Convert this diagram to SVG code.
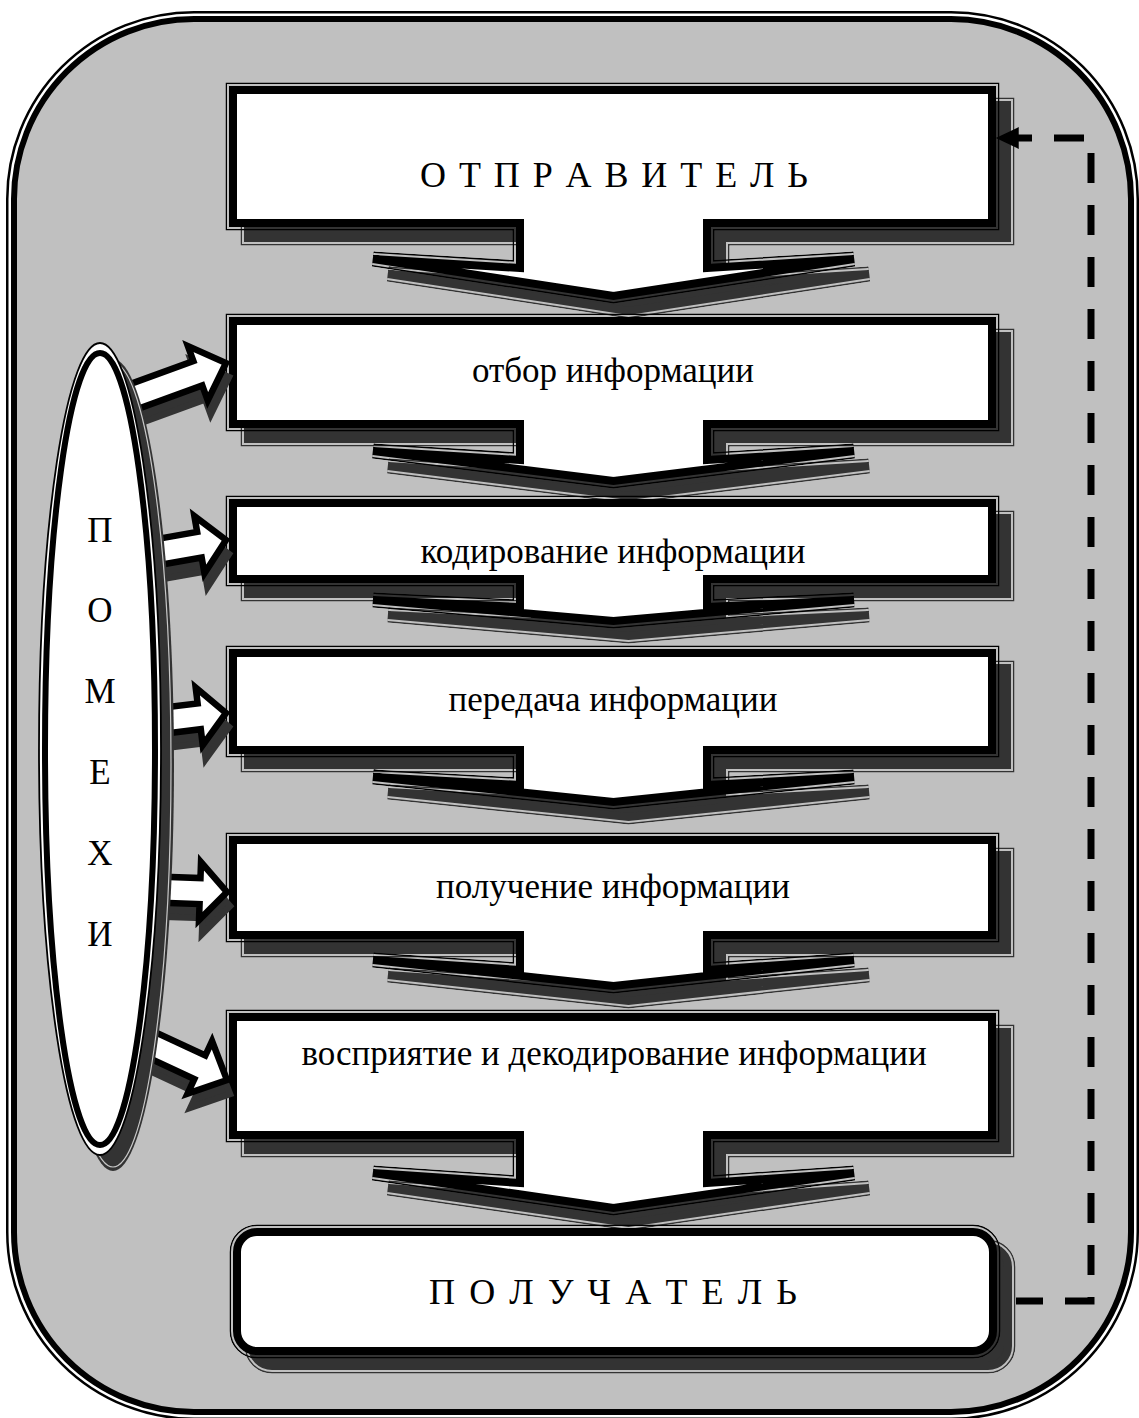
<svg xmlns="http://www.w3.org/2000/svg" width="1139" height="1418" viewBox="0 0 1139 1418">
<style>
.ro{fill:none;stroke:#000;stroke-width:15}
.rs{fill:none;stroke:#333;stroke-width:15}
.sm{fill:#333;stroke:#333;stroke-width:8}
.m{fill:#fff;stroke:#000;stroke-width:8}
.mw{fill:none;stroke:#fff;stroke-width:15}
.mb{fill:#000;stroke:#000;stroke-width:12}
.t{font-family:"Liberation Serif","Times New Roman",serif;font-size:35px;text-anchor:middle;fill:#000}
.cap{font-size:36px}
.ar{fill:#fff;stroke:#000;stroke-width:6.5}
.ash{fill:#333;stroke:#333;stroke-width:6.5}
.dash{fill:none;stroke:#000;stroke-width:7;stroke-dasharray:30 22;stroke-dashoffset:3}
</style>
<defs>
<path id="b1" d="M233,90 H992 V223 H707 V268 L854,259 L613.5,296 L373,259 L520,268 V223 H233 Z"/>
<path id="b2" d="M233,321 H992 V424 H707 V460 L854,451 L613.5,481 L373,451 L520,460 V424 H233 Z"/>
<path id="b3" d="M233,503 H992 V579 H707 V607 L854,600 L613.5,621 L373,600 L520,607 V579 H233 Z"/>
<path id="b4" d="M233,653 H992 V750 H707 V785 L854,777 L613.5,802 L373,777 L520,785 V750 H233 Z"/>
<path id="b5" d="M233,840 H992 V935 H707 V970 L854,960 L613.5,986 L373,960 L520,970 V935 H233 Z"/>
<path id="b6" d="M233,1017 H992 V1135 H707 V1183 L854,1173 L613.5,1208 L373,1173 L520,1183 V1135 H233 Z"/>
<rect id="b7" x="237" y="1232" width="756" height="119" rx="20"/>
<mask id="k1" maskUnits="userSpaceOnUse" x="0" y="0" width="1139" height="1418"><use href="#b1" class="mw"/><use href="#b1" class="mb"/></mask>
<mask id="k2" maskUnits="userSpaceOnUse" x="0" y="0" width="1139" height="1418"><use href="#b2" class="mw"/><use href="#b2" class="mb"/></mask>
<mask id="k3" maskUnits="userSpaceOnUse" x="0" y="0" width="1139" height="1418"><use href="#b3" class="mw"/><use href="#b3" class="mb"/></mask>
<mask id="k4" maskUnits="userSpaceOnUse" x="0" y="0" width="1139" height="1418"><use href="#b4" class="mw"/><use href="#b4" class="mb"/></mask>
<mask id="k5" maskUnits="userSpaceOnUse" x="0" y="0" width="1139" height="1418"><use href="#b5" class="mw"/><use href="#b5" class="mb"/></mask>
<mask id="k6" maskUnits="userSpaceOnUse" x="0" y="0" width="1139" height="1418"><use href="#b6" class="mw"/><use href="#b6" class="mb"/></mask>
<mask id="k7" maskUnits="userSpaceOnUse" x="0" y="0" width="1139" height="1418"><use href="#b7" class="mw"/><use href="#b7" class="mb"/></mask>
<path id="a1" d="M-115,-13 H-30 V-29 L0,0 L-30,29 V13 H-115 Z"/>
<path id="a2" d="M-90,-13 H-27 V-29 L0,0 L-27,29 V13 H-90 Z"/>
<path id="a3" d="M-82,-13 H-27 V-29 L0,0 L-27,29 V13 H-82 Z"/>
<path id="a4" d="M-85,-13 H-27 V-29 L0,0 L-27,29 V13 H-85 Z"/>
<path id="a5" d="M-105,-13 H-30 V-29 L0,0 L-30,29 V13 H-105 Z"/>
<marker id="ah" markerUnits="userSpaceOnUse" markerWidth="24" markerHeight="24" viewBox="0 -11 22 22" refX="8" refY="0" orient="auto">
<path d="M0,-10 L21,0 L0,10 Z" fill="#000"/>
</marker>
</defs>
<rect width="1139" height="1418" fill="#fff"/>
<g id="frame">
<rect x="14" y="19" width="1117" height="1393" rx="180" fill="none" stroke="#000" stroke-width="16"/>
<rect x="14" y="19" width="1117" height="1393" rx="180" fill="none" stroke="#fff" stroke-width="11"/>
<rect x="14" y="19" width="1117" height="1393" rx="180" fill="#c0c0c0" stroke="#000" stroke-width="6"/>
</g>
<g id="node-otpravitel">
<g transform="translate(15 15)"><use href="#b1" class="rs" mask="url(#k1)"/><use href="#b1" class="sm"/></g>
<use href="#b1" class="ro" mask="url(#k1)"/><use href="#b1" class="m"/>
<text class="t cap" x="614" y="187" textLength="388" lengthAdjust="spacing">О Т П Р А В И Т Е Л Ь</text>
</g>
<g id="node-otbor">
<g transform="translate(15 15)"><use href="#b2" class="rs" mask="url(#k2)"/><use href="#b2" class="sm"/></g>
<use href="#b2" class="ro" mask="url(#k2)"/><use href="#b2" class="m"/>
<text class="t" x="613" y="382">отбор информации</text>
</g>
<g id="node-kodirovanie">
<g transform="translate(15 15)"><use href="#b3" class="rs" mask="url(#k3)"/><use href="#b3" class="sm"/></g>
<use href="#b3" class="ro" mask="url(#k3)"/><use href="#b3" class="m"/>
<text class="t" x="613" y="563">кодирование информации</text>
</g>
<g id="node-peredacha">
<g transform="translate(15 15)"><use href="#b4" class="rs" mask="url(#k4)"/><use href="#b4" class="sm"/></g>
<use href="#b4" class="ro" mask="url(#k4)"/><use href="#b4" class="m"/>
<text class="t" x="613" y="711">передача информации</text>
</g>
<g id="node-poluchenie">
<g transform="translate(15 15)"><use href="#b5" class="rs" mask="url(#k5)"/><use href="#b5" class="sm"/></g>
<use href="#b5" class="ro" mask="url(#k5)"/><use href="#b5" class="m"/>
<text class="t" x="613" y="898">получение информации</text>
</g>
<g id="node-vospriyatie">
<g transform="translate(15 15)"><use href="#b6" class="rs" mask="url(#k6)"/><use href="#b6" class="sm"/></g>
<use href="#b6" class="ro" mask="url(#k6)"/><use href="#b6" class="m"/>
<text class="t" x="614" y="1065">восприятие и декодирование информации</text>
</g>
<g id="node-poluchatel">
<g transform="translate(15 15)"><use href="#b7" class="rs" mask="url(#k7)"/><use href="#b7" class="sm"/></g>
<use href="#b7" class="ro" mask="url(#k7)"/><use href="#b7" class="m"/>
<text class="t cap" x="613" y="1304" textLength="368" lengthAdjust="spacing">П О Л У Ч А Т Е Л Ь</text>
</g>
<g id="connectors">
<use href="#a1" class="ash" transform="translate(229 377) rotate(-20)"/>
<use href="#a2" class="ash" transform="translate(229 554) rotate(-10)"/>
<use href="#a3" class="ash" transform="translate(229 727) rotate(-7)"/>
<use href="#a4" class="ash" transform="translate(230 906) rotate(2)"/>
<use href="#a5" class="ash" transform="translate(230 1094) rotate(25)"/>
<use href="#a1" class="ar" transform="translate(226 363) rotate(-20)"/>
<use href="#a2" class="ar" transform="translate(226 540) rotate(-10)"/>
<use href="#a3" class="ar" transform="translate(226 713) rotate(-7)"/>
<use href="#a4" class="ar" transform="translate(227 892) rotate(2)"/>
<use href="#a5" class="ar" transform="translate(227 1080) rotate(25)"/>
<path class="dash" d="M1016,1301 H1091 V138 H1010" marker-end="url(#ah)"/>
</g>
<g id="node-pomehi">
<ellipse cx="113" cy="765" rx="61" ry="406" fill="#333"/>
<ellipse cx="113" cy="765" rx="58" ry="402" fill="none" stroke="#c8c8c8" stroke-width="1.2"/>
<ellipse cx="100" cy="749" rx="61" ry="406" fill="#fff" stroke="#000" stroke-width="1.8"/>
<ellipse cx="100" cy="749" rx="55" ry="396" fill="#fff" stroke="#000" stroke-width="6"/>
<text class="t" x="100" y="542">П</text>
<text class="t" x="100" y="622">О</text>
<text class="t" x="100" y="703">М</text>
<text class="t" x="100" y="784">Е</text>
<text class="t" x="100" y="865">Х</text>
<text class="t" x="100" y="946">И</text>
</g>
</svg>
